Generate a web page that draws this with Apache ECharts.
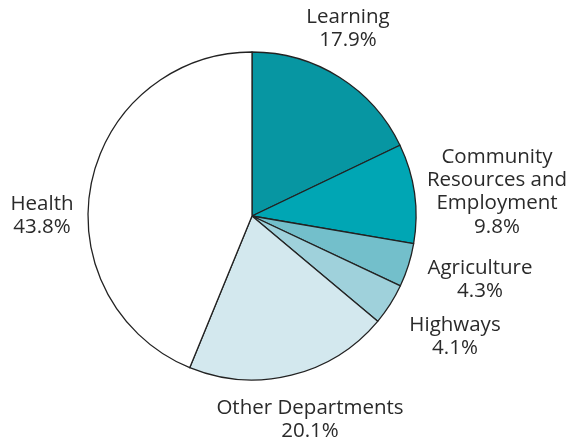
<!DOCTYPE html>
<html><head><meta charset="utf-8">
<script src="https://cdn.jsdelivr.net/npm/echarts@6/dist/echarts.min.js"></script>
<style>html,body{margin:0;padding:0;background:#fff}#c{width:571px;height:444px}</style>
</head><body><div id="c"></div>
<script>
const categories = ["Learning", "Community\nResources and\nEmployment", "Agriculture", "Highways", "Other Departments", "Health"];
const values = [17.9, 9.8, 4.3, 4.1, 20.1, 43.8];
const colors = ["#0796a2", "#00a6b4", "#73bfcb", "#9fd1db", "#d3e8ee", "#ffffff"];
const labelPos = [[348, 29], [497, 192], [480, 280], [455, 337], [310, 420], [42, 216]];

const chart = echarts.init(document.getElementById('c'), null, {renderer: 'canvas'});
chart.setOption({
  animation: false,
  series: [{
    type: 'pie',
    center: [252, 216],
    radius: 164,
    startAngle: 90,
    clockwise: true,
    data: categories.map((n, i) => ({name: n, value: values[i], itemStyle: {color: colors[i]}})),
    itemStyle: {borderColor: '#222', borderWidth: 1.3},
    label: {
      show: true, position: 'outside', overflow: 'none', width: 300,
      formatter: p => p.name + '\n' + p.value.toFixed(1) + '%',
      color: '#2a2a2a', fontFamily: 'Open Sans', fontSize: 20.5, lineHeight: 23.3, align: 'center'
    },
    labelLine: {show: false},
    labelLayout: p => ({x: labelPos[p.dataIndex][0], y: labelPos[p.dataIndex][1], align: 'center', verticalAlign: 'middle', hideOverlap: false, moveOverlap: false})
  }]
});
</script></body></html>
